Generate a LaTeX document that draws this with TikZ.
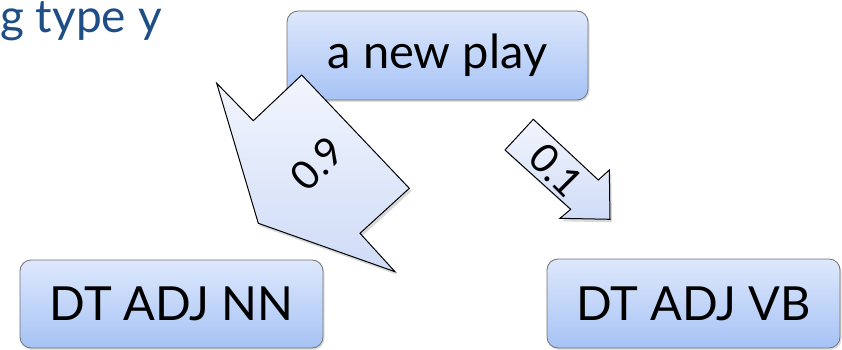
\documentclass[tikz,border=0pt]{standalone}
\usepackage{fontspec}
\setmainfont{Lato}
\usetikzlibrary{shadows}
\definecolor{titleblue}{HTML}{1F4E87}
\definecolor{boxtop}{HTML}{DEE8FC}
\definecolor{boxbottom}{HTML}{A6C3F5}
\definecolor{boxline}{HTML}{707070}
\definecolor{arrowtop}{HTML}{F2F5FD}
\definecolor{arrowbottom}{HTML}{CFDCF7}
\begin{document}
\begin{tikzpicture}[x=1pt,y=-1pt,
  tagbox/.style={draw=boxline, line width=0.8pt, rounded corners=11pt,
    top color=boxtop, bottom color=boxbottom, inner sep=0pt,
    font=\fontsize{47}{47}\selectfont,
    drop shadow={opacity=0.25, shadow xshift=1.5pt, shadow yshift=-2pt}},
  blockarrow/.style={draw=black, line width=1pt, line join=miter,
    top color=arrowtop, bottom color=arrowbottom,
    drop shadow={opacity=0.3, shadow xshift=2pt, shadow yshift=-3pt}},
  problabel/.style={font=\fontsize{40}{40}\selectfont, inner sep=0pt}]
\useasboundingbox (0,0) rectangle (842,350);

% heading fragment
\node[anchor=base west, inner sep=0pt, text height=28pt, text=titleblue,
      font=\fontsize{46}{46}\selectfont] (heading) at (0,33) {g type y};

% tag sequences
\node[tagbox, minimum width=301pt, minimum height=89pt] (play) at (437.5,55.5) {a new play};
\node[tagbox, minimum width=303pt, minimum height=88pt] (nn) at (171.5,304) {DT ADJ NN};
\node[tagbox, minimum width=293pt, minimum height=89pt] (vb) at (693.5,303.5) {DT ADJ VB};

% wide block arrow, probability 0.9
\draw[blockarrow] (301.7,75) -- (409.3,188.3) -- (360,233.3) -- (395,271.7)
  -- (258.3,223.3) -- (216.7,83.3) -- (253.3,120.7) -- cycle;
\node[problabel, rotate=45] (p9) at (317.5,164) {0.9};

% narrow block arrow, probability 0.1
\draw[blockarrow] (533.3,119.3) -- (598.3,180) -- (609.3,170) -- (610,219.3)
  -- (560,218.3) -- (570.7,209.3) -- (505,150) -- cycle;
\node[problabel, rotate=-45] (p1) at (556,170.5) {0.1};
\end{tikzpicture}
\end{document}
